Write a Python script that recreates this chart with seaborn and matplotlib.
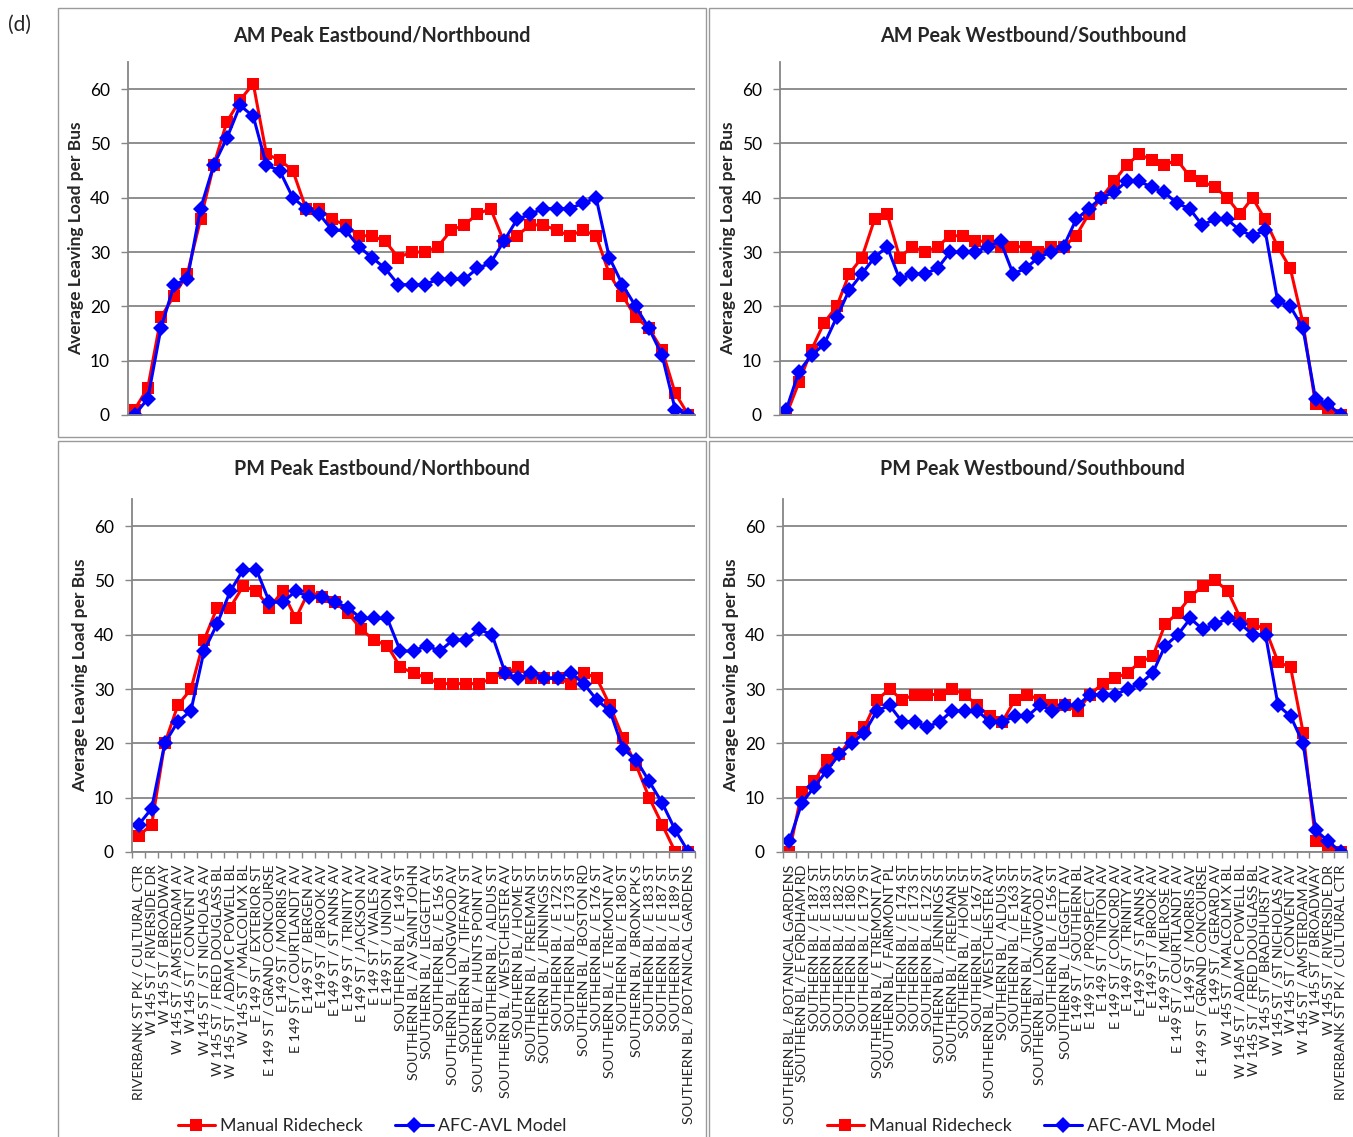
import matplotlib
matplotlib.use("Agg")
import matplotlib.pyplot as plt
import seaborn as sns
import numpy as np
from matplotlib.patches import Rectangle
from matplotlib.lines import Line2D

sns.set_theme(style="white")
plt.rcParams['font.family'] = ['Lato', 'DejaVu Sans']

# ---------------- data ----------------
stops_east = [
    "RIVERBANK ST PK / CULTURAL CTR", "W 145 ST / RIVERSIDE DR", "W 145 ST / BROADWAY",
    "W 145 ST / AMSTERDAM AV", "W 145 ST / CONVENT AV", "W 145 ST / ST NICHOLAS AV",
    "W 145 ST / FRED DOUGLASS BL", "W 145 ST / ADAM C POWELL BL", "W 145 ST / MALCOLM X BL",
    "E 149 ST / EXTERIOR ST", "E 149 ST / GRAND CONCOURSE", "E 149 ST / MORRIS AV",
    "E 149 ST / COURTLANDT AV", "E 149 ST / BERGEN AV", "E 149 ST / BROOK AV",
    "E 149 ST / ST ANNS AV", "E 149 ST / TRINITY AV", "E 149 ST / JACKSON AV",
    "E 149 ST / WALES AV", "E 149 ST / UNION AV", "SOUTHERN BL / E 149 ST",
    "SOUTHERN BL / AV SAINT JOHN", "SOUTHERN BL / LEGGETT AV", "SOUTHERN BL / E 156 ST",
    "SOUTHERN BL / LONGWOOD AV", "SOUTHERN BL / TIFFANY ST", "SOUTHERN BL / HUNTS POINT AV",
    "SOUTHERN BL / ALDUS ST", "SOUTHERN BL / WESTCHESTER AV", "SOUTHERN BL / HOME ST",
    "SOUTHERN BL / FREEMAN ST", "SOUTHERN BL / JENNINGS ST", "SOUTHERN BL / E 172 ST",
    "SOUTHERN BL / E 173 ST", "SOUTHERN BL / BOSTON RD", "SOUTHERN BL / E 176 ST",
    "SOUTHERN BL / E TREMONT AV", "SOUTHERN BL / E 180 ST", "SOUTHERN BL / BRONX PK S",
    "SOUTHERN BL / E 183 ST", "SOUTHERN BL / E 187 ST", "SOUTHERN BL / E 189 ST",
    "SOUTHERN BL / BOTANICAL GARDENS",
]
stops_west = [
    "SOUTHERN BL / BOTANICAL GARDENS", "SOUTHERN BL / E FORDHAM RD", "SOUTHERN BL / E 187 ST",
    "SOUTHERN BL / E 183 ST", "SOUTHERN BL / E 182 ST", "SOUTHERN BL / E 180 ST",
    "SOUTHERN BL / E 179 ST", "SOUTHERN BL / E TREMONT AV", "SOUTHERN BL / FAIRMONT PL",
    "SOUTHERN BL / E 174 ST", "SOUTHERN BL / E 173 ST", "SOUTHERN BL / E 172 ST",
    "SOUTHERN BL / JENNINGS ST", "SOUTHERN BL / FREEMAN ST", "SOUTHERN BL / HOME ST",
    "SOUTHERN BL / E 167 ST", "SOUTHERN BL / WESTCHESTER AV", "SOUTHERN BL / ALDUS ST",
    "SOUTHERN BL / E 163 ST", "SOUTHERN BL / TIFFANY ST", "SOUTHERN BL / LONGWOOD AV",
    "SOUTHERN BL / E 156 ST", "SOUTHERN BL / LEGGETT AV", "E 149 ST / SOUTHERN BL",
    "E 149 ST / PROSPECT AV", "E 149 ST / TINTON AV", "E 149 ST / CONCORD AV",
    "E 149 ST / TRINITY AV", "E 149 ST / ST ANNS AV", "E 149 ST / BROOK AV",
    "E 149 ST / MELROSE AV", "E 149 ST / COURTLANDT AV", "E 149 ST / MORRIS AV",
    "E 149 ST / GRAND CONCOURSE", "E 149 ST / GERARD AV", "W 145 ST / MALCOLM X BL",
    "W 145 ST / ADAM C POWELL BL", "W 145 ST / FRED DOUGLASS BL", "W 145 ST / BRADHURST AV",
    "W 145 ST / ST NICHOLAS AV", "W 145 ST / CONVENT AV", "W 145 ST / AMSTERDAM AV",
    "W 145 ST / BROADWAY", "W 145 ST / RIVERSIDE DR", "RIVERBANK ST PK / CULTURAL CTR",
]

am_east_manual = [1, 5, 18, 22, 26, 36, 46, 54, 58, 61, 48, 47, 45, 38, 38, 36, 35, 33, 33, 32, 29, 30,
                  30, 31, 34, 35, 37, 38, 32, 33, 35, 35, 34, 33, 34, 33, 26, 22, 18, 16, 12, 4, 0]
am_east_model = [0, 3, 16, 24, 25, 38, 46, 51, 57, 55, 46, 45, 40, 38, 37, 34, 34, 31, 29, 27, 24, 24,
                 24, 25, 25, 25, 27, 28, 32, 36, 37, 38, 38, 38, 39, 40, 29, 24, 20, 16, 11, 1, 0]
am_west_manual = [0, 6, 12, 17, 20, 26, 29, 36, 37, 29, 31, 30, 31, 33, 33, 32, 32, 31, 31, 31, 30, 31,
                  31, 33, 37, 40, 43, 46, 48, 47, 46, 47, 44, 43, 42, 40, 37, 40, 36, 31, 27, 17, 2, 1, 0]
am_west_model = [1, 8, 11, 13, 18, 23, 26, 29, 31, 25, 26, 26, 27, 30, 30, 30, 31, 32, 26, 27, 29, 30,
                 31, 36, 38, 40, 41, 43, 43, 42, 41, 39, 38, 35, 36, 36, 34, 33, 34, 21, 20, 16, 3, 2, 0]
pm_east_manual = [3, 5, 20, 27, 30, 39, 45, 45, 49, 48, 45, 48, 43, 48, 47, 46, 44, 41, 39, 38, 34, 33,
                  32, 31, 31, 31, 31, 32, 33, 34, 32, 32, 32, 31, 33, 32, 27, 21, 16, 10, 5, 0, 0]
pm_east_model = [5, 8, 20, 24, 26, 37, 42, 48, 52, 52, 46, 46, 48, 47, 47, 46, 45, 43, 43, 43, 37, 37,
                 38, 37, 39, 39, 41, 40, 33, 32, 33, 32, 32, 33, 31, 28, 26, 19, 17, 13, 9, 4, 0]
pm_west_manual = [0, 11, 13, 17, 18, 21, 23, 28, 30, 28, 29, 29, 29, 30, 29, 27, 25, 24, 28, 29, 28, 27,
                  27, 26, 29, 31, 32, 33, 35, 36, 42, 44, 47, 49, 50, 48, 43, 42, 41, 35, 34, 22, 2, 1, 0]
pm_west_model = [2, 9, 12, 15, 18, 20, 22, 26, 27, 24, 24, 23, 24, 26, 26, 26, 24, 24, 25, 25, 27, 26,
                 27, 27, 29, 29, 29, 30, 31, 33, 38, 40, 43, 41, 42, 43, 42, 40, 40, 27, 25, 20, 4, 2, 0]

titles = ["AM Peak Eastbound/Northbound", "AM Peak Westbound/Southbound",
          "PM Peak Eastbound/Northbound", "PM Peak Westbound/Southbound"]
series_names = ["Manual Ridecheck", "AFC-AVL Model"]
y_ticks = [0, 10, 20, 30, 40, 50, 60]

RED = "#FF0000"
BLUE = "#0000FF"
GRID = "#868686"

W, H = 1353, 1137
fig = plt.figure(figsize=(W / 100, H / 100), dpi=100)


def px_rect(x0, y0, x1, y1):
    return [x0 / W, 1 - y1 / H, (x1 - x0) / W, (y1 - y0) / H]


panels = [
    dict(stops=stops_east, man=am_east_manual, mod=am_east_model, box=(58, 8, 706, 437),
         ax=(128, 62, 695, 415), labels=False, title=titles[0]),
    dict(stops=stops_west, man=am_west_manual, mod=am_west_model, box=(709, 8, 1362, 437),
         ax=(780, 62, 1347, 415), labels=False, title=titles[1]),
    dict(stops=stops_east, man=pm_east_manual, mod=pm_east_model, box=(58, 441, 706, 1150),
         ax=(132, 499, 695, 852), labels=True, title=titles[2]),
    dict(stops=stops_west, man=pm_west_manual, mod=pm_west_model, box=(709, 441, 1362, 1150),
         ax=(783, 499, 1347, 852), labels=True, title=titles[3]),
]

for p in panels:
    bx0, by0, bx1, by1 = p["box"]
    fig.add_artist(Rectangle((bx0 / W, 1 - by1 / H), (bx1 - bx0) / W, (by1 - by0) / H,
                             transform=fig.transFigure, fill=False, edgecolor="#9a9a9a", lw=1.0))
    ax = fig.add_axes(px_rect(*p["ax"]))
    n = len(p["stops"])
    xs = np.arange(n)
    sns.lineplot(x=xs, y=p["man"], ax=ax, color=RED, marker="s", markersize=8.5,
                 markeredgecolor=RED, markeredgewidth=0, linewidth=2.2, sort=False)
    sns.lineplot(x=xs, y=p["mod"], ax=ax, color=BLUE, marker="D", markersize=8,
                 markeredgecolor=BLUE, markeredgewidth=0, linewidth=2.2, sort=False)
    ax.set_xlim(-0.5, n - 0.5)
    ax.set_ylim(0, 65)
    ax.set_yticks(y_ticks)
    ax.yaxis.grid(True, color=GRID, lw=1.3)
    ax.set_axisbelow(True)
    for s in ["top", "right"]:
        ax.spines[s].set_visible(False)
    for s in ["left", "bottom"]:
        ax.spines[s].set_color(GRID)
        ax.spines[s].set_linewidth(1.3)
    ax.tick_params(axis="y", which="major", left=True, length=5, width=1.0, color=GRID,
                   pad=8, labelsize=12.5, labelcolor="black")
    ax.set_ylabel("Average Leaving Load per Bus", fontsize=12.5, fontweight="bold", labelpad=4)
    if p["labels"]:
        ax.set_xticks(xs)
        ax.set_xticklabels(p["stops"], rotation=90, fontsize=10.3, ha="center", va="top")
        ax.set_xticks(np.arange(-0.5, n, 1.0), minor=True)
        ax.tick_params(axis="x", which="major", bottom=False, pad=3)
        ax.tick_params(axis="x", which="minor", bottom=True, length=4, width=1.0, color=GRID)
    else:
        ax.set_xticks([])
    cx = (bx0 + min(bx1, 1357)) / 2
    fig.text(cx / W, 1 - (by0 + 28) / H, p["title"], ha="center", va="center",
             fontsize=14.2, fontweight="bold")

handles = [
    Line2D([], [], color=RED, marker="s", markersize=8.5, markeredgewidth=0, lw=2.2),
    Line2D([], [], color=BLUE, marker="D", markersize=8, markeredgewidth=0, lw=2.2),
]
for cx in (372, 1021):
    fig.legend(handles, series_names, loc="center", bbox_to_anchor=(cx / W, 1 - 1126 / H),
               ncol=2, frameon=False, fontsize=12.8, handlelength=2.1, columnspacing=1.8,
               handletextpad=0.3, borderaxespad=0, borderpad=0)

fig.text(8 / W, 1 - 25 / H, "(d)", ha="left", va="center", fontsize=15)

fig.savefig("out.png", dpi=100)
